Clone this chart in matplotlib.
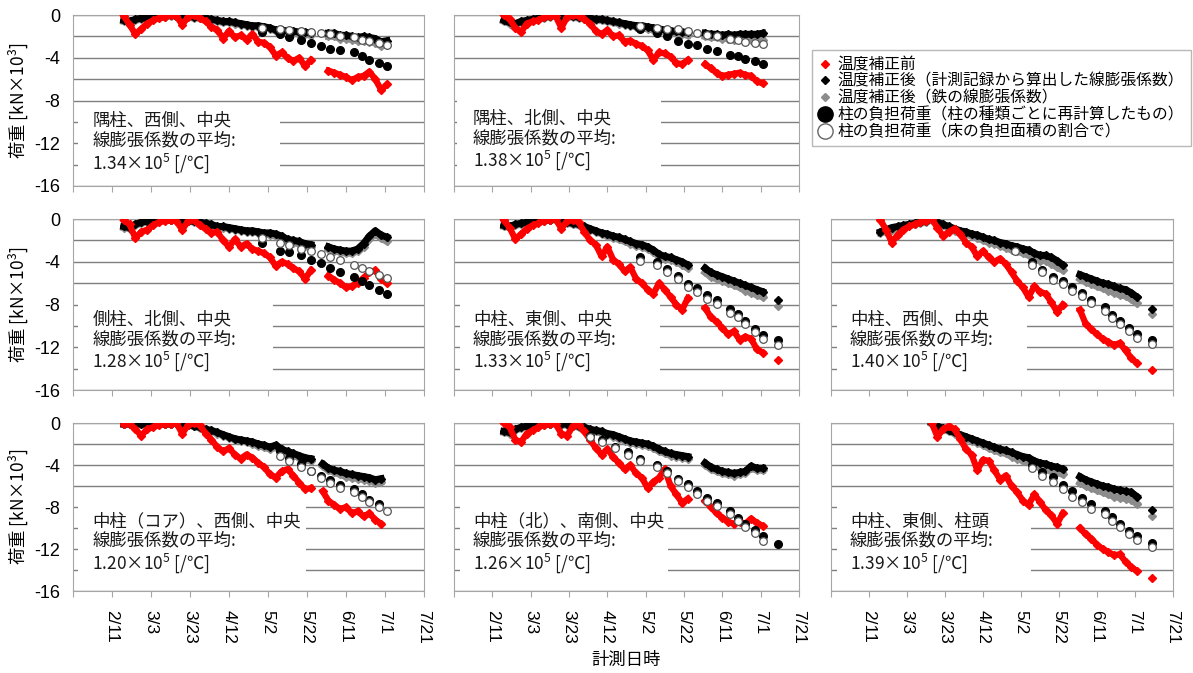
import numpy as np
import pandas as pd
import matplotlib
matplotlib.use('Agg')
import matplotlib.pyplot as plt
from matplotlib.lines import Line2D
from matplotlib.patches import Rectangle

plt.rcParams['font.family'] = ['Liberation Sans', 'Noto Sans CJK JP', 'DejaVu Sans']
plt.rcParams['mathtext.fontset'] = 'custom'
plt.rcParams['mathtext.rm'] = 'Noto Sans CJK JP'
CJK = 'Noto Sans CJK JP'   # texts with mathtext need a single family that has the kanji

nan = np.nan
YEAR = '2011/'

dates = ['2/17', '2/20', '2/23', '2/26', '3/1', '3/4', '3/7', '3/10', '3/13',
         '3/16', '3/19', '3/22', '3/25', '3/28', '3/31', '4/3', '4/6', '4/9', '4/12',
         '4/15', '4/18', '4/21', '4/24', '4/27', '4/30', '5/3', '5/6', '5/9', '5/12',
         '5/15', '5/18', '5/21', '5/24',
         '5/27', '5/30',
         '6/2', '6/5', '6/8', '6/11', '6/14', '6/17', '6/20', '6/23', '6/26', '6/29', '7/2',
         '7/6', '7/10']

# dates of the recalculated column loads (circles)
circle_dates = ['4/3', '4/9', '4/16', '4/23', '4/29', '5/8', '5/13', '5/19', '5/24',
                '5/29', '6/3', '6/8', '6/15', '6/19', '6/23', '6/28', '7/2', '7/10']

tick_dates = ['1/22', '2/11', '3/3', '3/23', '4/12', '5/2', '5/22', '6/11', '7/1', '7/21']
tick_labels = ['', '2/11', '3/3', '3/23', '4/12', '5/2', '5/22', '6/11', '7/1', '7/21']

# ---- panel 1 : 隅柱、西側、中央
p1_red = [-0.1, -0.9, -1.8, -1.3, -0.8, -0.5, -0.3, -0.2, 0.0,
          -0.1, -0.9, -0.2, 0.0, -0.3, -0.6, -1.1, -1.4, -2.2, -1.5,
          -2.1, -1.9, -2.3, -1.8, -2.5, -2.6, -3.0, -3.8, -3.5, -4.0, -4.3, -4.0, -4.8, -4.2,
          nan, nan,
          -5.2, -5.4, -5.6, -5.8, -6.1, -5.8, -5.7, -5.3, -6.0, -7.0, -6.5,
          nan, nan]
p1_black = [-0.5, -0.6, -0.4, -0.3, -0.3, -0.2, -0.2, -0.1, 0.0,
            -0.1, -0.1, -0.1, -0.2, -0.2, -0.3, -0.4, -0.5, -0.6, -0.6,
            -0.7, -0.8, -0.9, -1.0, -1.0, -1.1, -1.2, -1.4, -1.4, -1.5, -1.5, -1.6, -1.6, -1.7,
            nan, nan,
            -1.7, -1.7, -1.9, -1.9, -2.0, -2.1, -2.0, -2.1, -2.2, -2.5, -2.4,
            nan, nan]
p1_gray = [-0.6, -0.7, -0.5, -0.4, -0.3, -0.3, -0.2, -0.2, -0.1,
           -0.1, -0.2, -0.2, -0.3, -0.3, -0.4, -0.5, -0.6, -0.7, -0.7,
           -0.8, -0.9, -1.0, -1.1, -1.1, -1.2, -1.3, -1.5, -1.5, -1.6, -1.7, -1.8, -1.8, -1.9,
           nan, nan,
           -2.0, -2.0, -2.2, -2.2, -2.3, -2.4, -2.4, -2.5, -2.6, -2.9, -2.8,
           nan, nan]
p1_circ = [nan, nan, nan, nan, -1.55, -1.8, -2.1, -2.35, -2.6, -2.9, -3.2, -3.3,
           -3.45, -3.85, -4.2, -4.5, -4.75, nan]
p1_open = [nan, nan, nan, nan, -1.2, -1.3, -1.4, -1.5, -1.6, -1.7, -1.8, -2.0,
           -2.1, -2.3, -2.4, -2.6, -2.8, nan]

# ---- panel 2 : 隅柱、北側、中央
p2_red = [0.0, -0.4, -1.2, -1.6, -0.8, -0.6, -0.5, -0.2, -0.1,
          -0.1, -1.2, -0.2, 0.0, -0.1, -0.4, -0.8, -1.5, -1.8, -1.4,
          -2.0, -1.9, -2.5, -2.4, -2.7, -2.9, -3.3, -4.2, -3.5, -3.6, -3.9, -4.5, -4.6, -4.2,
          nan, nan,
          -4.6, -5.0, -5.4, -5.7, -5.6, -5.5, -5.4, -5.6, -5.7, -6.2, -6.4,
          nan, nan]
p2_black = [-0.5, -0.7, -0.8, -0.6, -0.5, -0.4, -0.3, -0.2, -0.1,
            0.0, -0.1, -0.1, -0.1, -0.2, -0.2, -0.3, -0.4, -0.4, -0.5,
            -0.6, -0.7, -0.8, -0.9, -1.0, -1.0, -1.1, -1.2, -1.3, -1.4, -1.5, -1.5, -1.6, -1.6,
            nan, nan,
            -1.7, -1.8, -1.8, -1.9, -1.8, -1.9, -1.8, -1.8, -1.8, -1.8, -1.7,
            nan, nan]
p2_gray = [-0.6, -0.8, -0.9, -0.7, -0.6, -0.5, -0.4, -0.3, -0.2,
           -0.1, -0.2, -0.2, -0.2, -0.3, -0.3, -0.4, -0.5, -0.5, -0.6,
           -0.7, -0.8, -0.9, -1.0, -1.1, -1.2, -1.3, -1.4, -1.5, -1.6, -1.7, -1.7, -1.8, -1.9,
           nan, nan,
           -2.0, -2.1, -2.1, -2.2, -2.2, -2.3, -2.2, -2.3, -2.3, -2.4, -2.3,
           nan, nan]
p2_circ = [nan, nan, nan, nan, -1.3, -1.7, -2.0, -2.4, -2.7, -2.85, -3.15, -3.4,
           -3.7, -3.8, -4.1, -4.3, -4.6, nan]
p2_open = [nan, nan, nan, nan, -1.0, -1.2, -1.3, -1.3, -1.5, -1.7, -1.9, -2.0,
           -2.2, -2.3, -2.5, -2.6, -2.75, nan]

# ---- panel 3 : 側柱、北側、中央
p3_red = [-0.1, -0.5, -1.8, -1.2, -1.0, -0.6, -0.3, -0.2, -0.1,
          -0.2, -1.0, -0.2, -0.1, -0.6, -0.9, -1.3, -1.2, -2.0, -2.6,
          -1.9, -2.6, -2.3, -2.8, -3.0, -3.2, -3.6, -4.4, -4.0, -4.2, -4.6, -4.9, -5.6, -4.8,
          nan, nan,
          -5.3, -5.7, -6.0, -6.4, -6.3, -6.0, -5.5, -5.0, -4.8, -5.6, -6.0,
          nan, nan]
p3_black = [-0.7, -0.8, -0.5, -0.3, -0.2, -0.2, -0.1, -0.1, -0.1,
            0.0, -0.1, -0.2, -0.2, -0.3, -0.4, -0.5, -0.7, -0.7, -0.8,
            -0.9, -1.0, -1.1, -1.1, -1.2, -1.3, -1.3, -1.4, -1.6, -1.9, -2.0, -2.1, -2.3, -2.4,
            nan, nan,
            -2.6, -2.8, -2.9, -3.0, -3.0, -2.8, -2.3, -1.6, -1.1, -1.5, -1.7,
            nan, nan]
p3_gray = [-0.8, -0.9, -0.6, -0.4, -0.3, -0.2, -0.2, -0.1, -0.1,
           -0.1, -0.1, -0.2, -0.3, -0.4, -0.5, -0.6, -0.8, -0.8, -0.9,
           -1.0, -1.1, -1.2, -1.2, -1.3, -1.4, -1.5, -1.6, -1.8, -2.1, -2.2, -2.3, -2.5, -2.6,
           nan, nan,
           -2.8, -3.0, -3.1, -3.2, -3.2, -3.0, -2.6, -1.9, -1.4, -1.8, -2.1,
           nan, nan]
p3_circ = [nan, nan, nan, nan, -2.2, -3.0, -3.1, -3.4, -3.8, -4.1, -4.6, -5.0,
           -5.4, -5.8, -6.2, -6.6, -7.0, nan]
p3_open = [nan, nan, nan, nan, -1.8, -2.2, -2.4, -2.8, -3.0, -3.3, -3.6, -3.8,
           -4.3, -4.6, -4.9, -5.2, -5.5, nan]

# ---- panel 4 : 中柱、東側、中央
p4_red = [-0.1, -0.8, -1.9, -1.4, -0.9, -0.6, -0.4, -0.2, -0.1,
          0.0, -0.9, -0.2, -0.1, -0.3, -1.2, -2.0, -2.4, -3.5, -2.6,
          -3.8, -4.2, -4.9, -4.5, -5.6, -6.0, -6.6, -7.0, -6.0, -6.6, -7.3, -8.0, -8.5, -7.4,
          nan, nan,
          -8.3, -9.2, -9.6, -10.2, -10.8, -10.5, -11.3, -11.0, -11.2, -12.2, -12.5,
          nan, -13.2]
p4_black = [-0.6, -0.7, -0.5, -0.4, -0.3, -0.3, -0.2, -0.1, -0.1,
            0.0, -0.2, -0.3, -0.4, -0.5, -0.7, -0.9, -1.1, -1.3, -1.4,
            -1.6, -1.7, -1.9, -2.1, -2.3, -2.4, -2.6, -2.9, -3.3, -3.5, -3.6, -3.8, -4.0, -4.3,
            nan, nan,
            -4.6, -5.0, -5.2, -5.4, -5.6, -5.8, -6.0, -6.2, -6.4, -6.6, -6.8,
            nan, -7.6]
p4_gray = [-0.7, -0.8, -0.6, -0.5, -0.4, -0.3, -0.3, -0.2, -0.1,
           -0.1, -0.3, -0.4, -0.5, -0.6, -0.8, -1.0, -1.2, -1.4, -1.6,
           -1.8, -1.9, -2.1, -2.3, -2.5, -2.6, -2.8, -3.1, -3.5, -3.7, -3.8, -4.0, -4.3, -4.6,
           nan, nan,
           -5.0, -5.4, -5.6, -5.8, -6.0, -6.2, -6.4, -6.7, -6.9, -7.1, -7.3,
           nan, -8.1]
p4_circ = [nan, nan, nan, nan, -3.6, -4.0, -4.65, -5.3, -6.05, -6.45, -7.15, -7.6,
           -8.4, -8.85, -9.55, -10.25, -10.9, -11.35]
p4_open = [nan, nan, nan, nan, -3.9, -4.35, -5.0, -5.65, -6.35, -6.8, -7.5, -7.95,
           -8.75, -9.2, -9.85, -10.6, -11.2, -11.8]

# ---- panel 5 : 中柱、西側、中央
p5_red = [-0.1, -1.0, -2.2, -1.5, -1.0, -0.7, -0.5, -0.3, -0.2,
          0.0, -0.8, -1.6, -1.2, -0.9, -1.4, -2.2, -2.6, -3.5, -3.0,
          -3.6, -4.0, -3.7, -4.2, -5.0, -5.8, -6.4, -7.3, -6.3, -6.8, -7.0, -7.8, -8.7, -8.0,
          nan, nan,
          -8.5, -9.8, -10.3, -10.8, -11.2, -11.5, -11.8, -11.6, -12.3, -13.0, -13.5,
          nan, -14.1]
p5_black = [-1.2, -1.0, -0.8, -0.7, -0.6, -0.5, -0.4, -0.3, -0.2,
            0.0, -0.3, -0.5, -0.7, -0.9, -1.1, -1.2, -1.4, -1.5, -1.7,
            -1.9, -2.0, -2.2, -2.3, -2.5, -2.6, -2.8, -2.9, -3.2, -3.4, -3.4, -3.6, -3.9, -4.3,
            nan, nan,
            -5.2, -5.4, -5.6, -5.8, -6.0, -6.1, -6.3, -6.5, -6.6, -6.9, -7.3,
            nan, -8.4]
p5_gray = [-1.3, -1.2, -1.0, -0.9, -0.8, -0.6, -0.5, -0.4, -0.3,
           -0.1, -0.4, -0.6, -0.9, -1.1, -1.3, -1.4, -1.6, -1.8, -2.0,
           -2.2, -2.3, -2.5, -2.7, -2.9, -3.0, -3.2, -3.4, -3.7, -3.9, -3.9, -4.2, -4.5, -4.8,
           nan, nan,
           -5.6, -5.9, -6.1, -6.3, -6.5, -6.7, -6.9, -7.1, -7.2, -7.5, -7.9,
           nan, -8.9]
p5_circ = [nan, nan, nan, nan, -2.8, -4.0, -4.8, -5.4, -5.8, -6.4, -6.9, -7.6,
           -8.25, -8.95, -9.5, -10.2, -10.75, -11.3]
p5_open = [nan, nan, nan, nan, -3.0, -4.3, -5.0, -5.7, -6.1, -6.7, -7.2, -7.9,
           -8.6, -9.3, -9.85, -10.5, -11.1, -11.7]

# ---- panel 6 : 中柱（コア）、西側、中央
p6_red = [-0.1, -0.1, -0.6, -1.2, -0.6, -0.4, -0.2, -0.1, -0.1,
          0.0, -1.0, -0.2, 0.0, -0.2, -1.0, -1.6, -2.3, -2.7, -2.4,
          -3.0, -3.4, -3.0, -3.3, -3.8, -4.2, -4.9, -5.2, -4.6, -4.4, -5.0, -5.7, -6.3, -6.2,
          nan, -6.5,
          -7.4, -7.8, -8.2, -8.0, -8.6, -8.4, -8.9, -8.6, -9.2, -9.6, nan,
          nan, nan]
p6_black = [-0.1, -0.1, -0.1, -0.1, -0.1, -0.1, -0.1, -0.1, -0.1,
            0.0, -0.1, -0.2, -0.3, -0.4, -0.6, -0.7, -0.9, -1.1, -1.3,
            -1.5, -1.6, -1.7, -1.8, -2.0, -2.1, -2.3, -2.1, -2.5, -2.7, -2.9, -3.1, -3.3, -3.4,
            nan, -3.9,
            -4.3, -4.5, -4.6, -4.8, -4.9, -5.0, -5.1, -5.2, -5.4, -5.3, nan,
            nan, nan]
p6_gray = [-0.1, -0.1, -0.1, -0.1, -0.1, -0.1, -0.1, -0.1, -0.1,
           0.0, -0.1, -0.2, -0.3, -0.5, -0.7, -0.8, -1.0, -1.2, -1.4,
           -1.6, -1.7, -1.8, -2.0, -2.2, -2.3, -2.5, -2.3, -2.7, -2.9, -3.1, -3.3, -3.5, -3.6,
           nan, -4.1,
           -4.5, -4.7, -4.9, -5.1, -5.2, -5.3, -5.4, -5.5, -5.7, -5.6, nan,
           nan, nan]
p6_circ = [nan, nan, nan, nan, nan, -2.7, -3.3, -3.9, -4.6, -5.0, -5.4, -5.9,
           -6.3, -6.8, -7.3, -7.7, nan, nan]
p6_open = [nan, nan, nan, nan, nan, -3.1, -3.6, -4.2, -4.6, -5.2, -5.7, -6.2,
           -6.6, -7.0, -7.5, -8.0, -8.4, nan]

# ---- panel 7 : 中柱（北）、南側、中央
p7_red = [0.0, -0.4, -1.6, -1.8, -1.0, -0.7, -0.4, -0.2, -0.1,
          -0.1, -1.0, -1.2, -0.3, -0.2, -0.8, -1.6, -2.4, -3.0, -2.5,
          -3.2, -3.8, -4.4, -4.0, -4.8, -5.2, -6.2, -5.6, -5.2, -4.4, -6.0, -6.8, -7.6, -7.2,
          nan, nan,
          -7.4, -8.0, -8.6, -9.0, -9.4, -9.6, -9.4, -9.6, -9.1, -9.5, -9.8,
          nan, nan]
p7_black = [-0.8, -0.9, -0.6, -0.4, -0.3, -0.2, -0.2, -0.1, -0.1,
            0.0, -0.1, -0.1, -0.2, -0.3, -0.4, -0.6, -0.7, -0.8, -1.0,
            -1.1, -1.3, -1.5, -1.7, -1.8, -1.9, -2.0, -2.2, -2.5, -2.7, -2.9, -3.0, -3.1, -3.2,
            nan, nan,
            -3.8, -4.2, -4.4, -4.6, -4.7, -4.8, -4.7, -4.6, -4.1, -4.3, -4.3,
            nan, nan]
p7_gray = [-0.9, -1.0, -0.7, -0.5, -0.4, -0.3, -0.3, -0.2, -0.1,
           -0.1, -0.2, -0.2, -0.3, -0.4, -0.5, -0.7, -0.8, -1.0, -1.1,
           -1.3, -1.5, -1.7, -1.9, -2.0, -2.1, -2.2, -2.4, -2.7, -2.9, -3.1, -3.2, -3.3, -3.4,
           nan, nan,
           -4.0, -4.4, -4.6, -4.8, -4.9, -5.0, -4.9, -4.8, -4.3, -4.5, -4.5,
           nan, nan]
p7_circ = [-1.2, -1.65, -2.25, -2.8, -3.4, -4.0, -4.6, -5.3, -5.8, -6.5, -7.1, -7.6,
           -8.4, -9.0, -9.6, -10.2, -10.8, -11.5]
p7_open = [-1.3, -1.8, -2.4, -3.0, -3.6, -4.2, -4.8, -5.5, -6.1, -6.8, -7.4, -7.9,
           -8.7, -9.3, -9.9, -10.5, -11.2, nan]

# ---- panel 8 : 中柱、東側、柱頭
p8_red = [nan, nan, nan, nan, nan, nan, nan, nan, nan,
          0.0, -1.3, -0.6, -0.3, -0.6, -1.5, -2.5, -3.0, -4.5, -3.5,
          -3.6, -4.5, -5.4, -5.0, -6.0, -6.6, -7.4, -7.8, -6.8, -7.5, -8.3, -8.8, -9.6, -8.6,
          nan, nan,
          -10.0, -10.6, -11.0, -11.6, -12.0, -12.3, -12.6, -12.5, -13.2, -13.7, -14.1,
          nan, -14.8]
p8_black = [nan, nan, nan, nan, nan, nan, nan, nan, nan,
            0.0, -0.3, -0.5, -0.7, -0.9, -1.1, -1.3, -1.5, -1.7, -1.9,
            -2.1, -2.3, -2.5, -2.6, -2.8, -3.0, -3.2, -3.3, -3.6, -3.8, -3.9, -4.1, -4.2, -4.4,
            nan, nan,
            -5.1, -5.4, -5.6, -5.8, -6.0, -6.1, -6.3, -6.4, -6.5, -6.6, -7.0,
            nan, -8.3]
p8_gray = [nan, nan, nan, nan, nan, nan, nan, nan, nan,
           -0.1, -0.4, -0.6, -0.8, -1.0, -1.3, -1.5, -1.7, -1.9, -2.1,
           -2.4, -2.6, -2.8, -2.9, -3.2, -3.4, -3.6, -3.7, -4.0, -4.3, -4.4, -4.6, -4.7, -4.9,
           nan, nan,
           -5.7, -6.0, -6.2, -6.4, -6.6, -6.8, -7.0, -7.1, -7.2, -7.3, -7.7,
           nan, -8.9]
p8_circ = [nan, nan, nan, nan, nan, -4.0, -4.65, -5.1, -5.9, -6.5, -7.1, -7.7,
           -8.4, -8.95, -9.6, -10.25, -10.8, -11.4]
p8_open = [nan, nan, nan, nan, nan, -4.3, -5.0, -5.6, -6.3, -7.0, -7.55, -8.2,
           -8.7, -9.3, -9.95, -10.55, -11.1, -11.85]

names = ['隅柱、西側、中央', '隅柱、北側、中央', '側柱、北側、中央', '中柱、東側、中央',
         '中柱、西側、中央', '中柱（コア）、西側、中央', '中柱（北）、南側、中央', '中柱、東側、柱頭']
coefs = ['1.34', '1.38', '1.28', '1.33', '1.40', '1.20', '1.26', '1.39']

legend_labels = ['温度補正前',
                 '温度補正後（計測記録から算出した線膨張係数）',
                 '温度補正後（鉄の線膨張係数）',
                 '柱の負担荷重（柱の種類ごとに再計算したもの）',
                 '柱の負担荷重（床の負担面積の割合で）']

x = pd.to_datetime([YEAR + d for d in dates])
xc = pd.to_datetime([YEAR + d for d in circle_dates])
xt = pd.to_datetime([YEAR + d for d in tick_dates])

# (row, col, red, black, gray, circles, open circles, box left, box right, box top, text y)
panels = [
    (0, 0, p1_red, p1_black, p1_gray, p1_circ, p1_open, 0.015, 0.590, -9.0, -12.0),
    (0, 1, p2_red, p2_black, p2_gray, p2_circ, p2_open, 0.010, 0.600, -7.7, -11.8),
    (1, 0, p3_red, p3_black, p3_gray, p3_circ, p3_open, 0.015, 0.570, -7.6, -11.5),
    (1, 1, p4_red, p4_black, p4_gray, p4_circ, p4_open, 0.017, 0.597, -7.6, -11.5),
    (1, 2, p5_red, p5_black, p5_gray, p5_circ, p5_open, 0.018, 0.573, -7.6, -11.5),
    (2, 0, p6_red, p6_black, p6_gray, p6_circ, p6_open, 0.014, 0.665, -7.6, -11.5),
    (2, 1, p7_red, p7_black, p7_gray, p7_circ, p7_open, 0.017, 0.620, -7.6, -11.5),
    (2, 2, p8_red, p8_black, p8_gray, p8_circ, p8_open, 0.018, 0.585, -7.6, -11.5),
]

W, H = 1193, 673
col_left = [73, 454, 831]
col_width = [351, 345, 342]
row_top = [15, 219, 423]
row_height = [171, 171, 168]

fig = plt.figure(figsize=(W / 100, H / 100), dpi=100)

for i, (r, c, red, black, gray, circ, opn, bl, br, bt, ty) in enumerate(panels):
    ax = fig.add_axes([col_left[c] / W, 1 - (row_top[r] + row_height[r]) / H,
                       col_width[c] / W, row_height[r] / H])
    ax.set_xlim(xt[0], xt[-1])
    ax.set_ylim(-16, 0)
    ax.set_axisbelow(True)
    ax.set_yticks(np.arange(-16, 1, 2))
    ax.set_yticklabels([str(v) if v % 4 == 0 else '' for v in range(-16, 1, 2)])
    ax.yaxis.grid(True, color='#7f7f7f', lw=1.0)
    ax.set_xticks(xt)
    for s in ax.spines.values():
        s.set_color('#a6a6a6')
    ax.tick_params(axis='x', direction='out', length=4, color='#a6a6a6', pad=10,
                   labelsize=12.5)
    ax.tick_params(axis='y', length=0, pad=9, labelsize=13)
    if r == 2:
        ax.set_xticklabels(tick_labels, rotation=-90, va='top', ha='center')
    else:
        ax.set_xticklabels([])
    if c == 0:
        ax.set_ylabel('荷重 [kN×10$^3$]', fontsize=12.5, labelpad=3, family=CJK)
    else:
        ax.set_yticklabels([])

    ax.plot(x, gray, color='#8c8c8c', lw=5, marker='D', ms=4, zorder=2)
    ax.plot(x, black, color='black', lw=5, marker='D', ms=4, zorder=3)
    ax.plot(x, red, color='#ff0000', lw=4.5, marker='D', ms=4, zorder=4)
    ax.plot(xc, circ, 'o', color='black', ms=5.5, zorder=5)
    ax.plot(xc, opn, 'o', mfc='white', mec='#555555', mew=0.9, ms=5.5, zorder=5)

    tr = ax.get_yaxis_transform()
    ax.add_patch(Rectangle((bl, -15.4), br - bl, bt + 15.4, transform=tr,
                           facecolor='white', edgecolor='none', zorder=1))
    ax.text(0.055, ty, names[i] + '\n線膨張係数の平均:\n' + coefs[i] + '×10$^5$ [/℃]',
            transform=tr, va='center', ha='left', fontsize=12.5, linespacing=1.1,
            color='#1a1a1a', family=CJK, zorder=6)

handles = [
    Line2D([], [], ls='none', marker='D', color='#ff0000', ms=4),
    Line2D([], [], ls='none', marker='D', color='black', ms=4),
    Line2D([], [], ls='none', marker='D', color='#8c8c8c', ms=4),
    Line2D([], [], ls='none', marker='o', color='black', ms=11),
    Line2D([], [], ls='none', marker='o', mfc='white', mec='#666666', mew=1, ms=11),
]
fig.legend(handles, legend_labels, loc='upper left', bbox_to_anchor=(812 / W, 1 - 50 / H),
           frameon=True, fancybox=False, edgecolor='#a6a6a6', fontsize=11.3,
           handlelength=0.8, handletextpad=0.4, labelspacing=0.1, borderpad=0.45,
           borderaxespad=0)

fig.text(626 / W, 1 - 660 / H, '計測日時', ha='center', va='center', fontsize=12.5)

fig.savefig('out.png', dpi=100)
